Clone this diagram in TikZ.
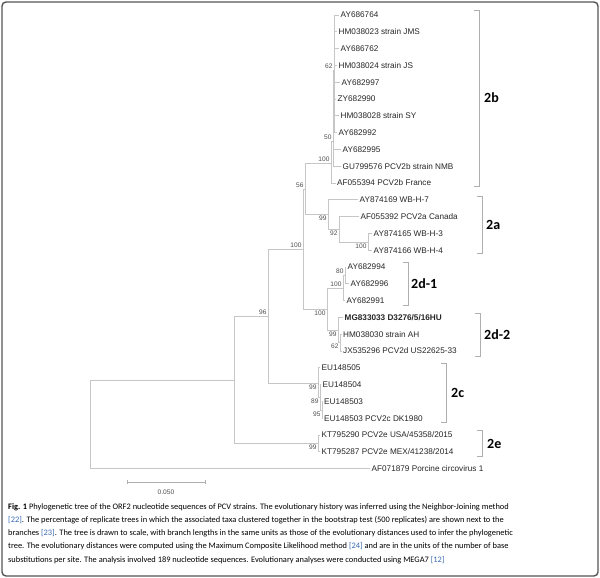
\documentclass[tikz,border=0pt]{standalone}
\usepackage{fontspec}
\setmainfont{Liberation Sans}
\newfontfamily\capfont{Carlito}
\usetikzlibrary{calc}
\definecolor{treegray}{RGB}{198,198,198}
\definecolor{brkgray}{RGB}{175,175,175}
\definecolor{framegray}{RGB}{85,85,85}
\definecolor{citeblue}{RGB}{55,105,180}
\newcommand{\refno}[1]{\textcolor{citeblue}{[#1]}}
\tikzset{
  br/.style={draw=treegray, line width=0.9pt},
  brk/.style={draw=brkgray, line width=0.8pt},
  taxon/.style={anchor=west, inner sep=1.5pt, text=black!85, font=\fontsize{8.2}{9}\selectfont},
  bsup/.style={anchor=south east, inner sep=1.3pt, text=black!70, font=\fontsize{6.6}{7}\selectfont},
  bsdn/.style={anchor=north east, inner sep=1.3pt, text=black!70, font=\fontsize{6.6}{7}\selectfont},
  clade/.style={anchor=west, inner sep=0pt, font=\capfont\bfseries\fontsize{14}{16}\selectfont},
  caption/.style={anchor=north west, inner sep=0pt, align=left, font=\capfont\fontsize{8.4}{13.3}\selectfont}
}
\begin{document}
\begin{tikzpicture}[x=1pt, y=-1pt]
  \useasboundingbox (0,0) rectangle (600,578);
  \draw[framegray, line width=1.4pt, rounded corners=4pt] (2,2) rectangle (598,576);

  \coordinate (root) at (90,424);
  \coordinate (npcv2) at (234,380);
  \coordinate (n96) at (268,316);
  \coordinate (n100) at (303,249);
  \coordinate (n56) at (305,189);
  \coordinate (n2b) at (331,163);
  \coordinate (n50) at (333,141);
  \coordinate (n62) at (334,70);
  \coordinate (n2a) at (328,214.5);
  \coordinate (n92) at (339,229);
  \coordinate (nwb) at (368,242);
  \coordinate (n2d) at (327,309);
  \coordinate (n2done) at (343,288);
  \coordinate (n80) at (345,275.4);
  \coordinate (n2dtwo) at (338,330);
  \coordinate (n62d) at (340,342.6);
  \coordinate (n2c) at (318,383);
  \coordinate (n89) at (320,397);
  \coordinate (n95) at (322,410);
  \coordinate (n2e) at (318,443.4);

  \node[taxon] (t0) at (339,15) {AY686764};
  \node[taxon] (t1) at (337,31.8) {HM038023 strain JMS};
  \node[taxon] (t2) at (339,48.6) {AY686762};
  \node[taxon] (t3) at (337,65.4) {HM038024 strain JS};
  \node[taxon] (t4) at (340,82.2) {AY682997};
  \node[taxon] (t5) at (336,99) {ZY682990};
  \node[taxon] (t6) at (339,115.8) {HM038028 strain SY};
  \node[taxon] (t7) at (337,132.6) {AY682992};
  \node[taxon] (t8) at (341,149.4) {AY682995};
  \node[taxon] (t9) at (341,166.2) {GU799576 PCV2b strain NMB};
  \node[taxon] (t10) at (335.5,183) {AF055394 PCV2b France};
  \node[taxon] (t11) at (358,199.8) {AY874169 WB-H-7};
  \node[taxon] (t12) at (359,216.6) {AF055392 PCV2a Canada};
  \node[taxon] (t13) at (372,233.4) {AY874165 WB-H-3};
  \node[taxon] (t14) at (372,250.2) {AY874166 WB-H-4};
  \node[taxon] (t15) at (346,267) {AY682994};
  \node[taxon] (t16) at (349,283.8) {AY682996};
  \node[taxon] (t17) at (345,300.6) {AY682991};
  \node[taxon] (t18) at (343,317.4) {\textbf{MG833033 D3276/5/16HU}};
  \node[taxon] (t19) at (341.5,334.2) {HM038030 strain AH};
  \node[taxon] (t20) at (341.5,351) {JX535296 PCV2d US22625-33};
  \node[taxon] (t21) at (320,367.8) {EU148505};
  \node[taxon] (t22) at (321,384.6) {EU148504};
  \node[taxon] (t23) at (322.5,401.4) {EU148503};
  \node[taxon] (t24) at (322.5,418.2) {EU148503 PCV2c DK1980};
  \node[taxon] (t25) at (320,435) {KT795290 PCV2e USA/45358/2015};
  \node[taxon] (t26) at (320,451.8) {KT795287 PCV2e MEX/41238/2014};
  \node[taxon] (t27) at (370,468.6) {AF071879 Porcine circovirus 1};

  \draw[br] (root) |- (npcv2);
  \draw[br] (root) |- (t27.west);
  \draw[br] (npcv2) |- (n96);
  \draw[br] (npcv2) |- (n2e);
  \draw[br] (n96) |- (n100);
  \draw[br] (n96) |- (n2c);
  \draw[br] (n100) |- (n56);
  \draw[br] (n100) |- (n2d);
  \draw[br] (n56) |- (n2b);
  \draw[br] (n56) |- (n2a);
  \draw[br] (n2b) |- (n50);
  \draw[br] (n2b) |- (t10.west);
  \draw[br] (n50) |- (n62);
  \draw[br] (n50) |- (t8.west);
  \draw[br] (n50) |- (t9.west);
  \draw[br] (n62) |- (t0.west);
  \draw[br] (n62) |- (t1.west);
  \draw[br] (n62) |- (t2.west);
  \draw[br] (n62) |- (t3.west);
  \draw[br] (n62) |- (t4.west);
  \draw[br] (n62) |- (t5.west);
  \draw[br] (n62) |- (t6.west);
  \draw[br] (n62) |- (t7.west);
  \draw[br] (n2a) |- (t11.west);
  \draw[br] (n2a) |- (n92);
  \draw[br] (n92) |- (t12.west);
  \draw[br] (n92) |- (nwb);
  \draw[br] (nwb) |- (t13.west);
  \draw[br] (nwb) |- (t14.west);
  \draw[br] (n2d) |- (n2done);
  \draw[br] (n2d) |- (n2dtwo);
  \draw[br] (n2done) |- (n80);
  \draw[br] (n2done) |- (t17.west);
  \draw[br] (n80) |- (t15.west);
  \draw[br] (n80) |- (t16.west);
  \draw[br] (n2dtwo) |- (t18.west);
  \draw[br] (n2dtwo) |- (n62d);
  \draw[br] (n62d) |- (t19.west);
  \draw[br] (n62d) |- (t20.west);
  \draw[br] (n2c) |- (t21.west);
  \draw[br] (n2c) |- (n89);
  \draw[br] (n89) |- (t22.west);
  \draw[br] (n89) |- (n95);
  \draw[br] (n95) |- (t23.west);
  \draw[br] (n95) |- (t24.west);
  \draw[br] (n2e) |- (t25.west);
  \draw[br] (n2e) |- (t26.west);

  \node[bsup] at (n62) {62};
  \node[bsup] at (n50) {50};
  \node[bsup] at (n2b) {100};
  \node[bsup] at (n56) {56};
  \node[bsup] at (n100) {100};
  \node[bsup] at (n96) {96};
  \node[bsup] at (n2done) {100};
  \node[bsup] at (n80) {80};
  \node[bsdn] at (n2a) {99};
  \node[bsdn] at (n92) {92};
  \node[bsdn] at (nwb) {100};
  \node[bsdn] at (n2d) {100};
  \node[bsdn] at (n2dtwo) {99};
  \node[bsdn] at (n62d) {62};
  \node[bsdn] at (n2c) {99};
  \node[bsdn] at (n89) {89};
  \node[bsdn] at (n95) {95};
  \node[bsdn] at (n2e) {99};

  \draw[brk] (474,10) -| (479,186) -- (474,186);
  \node[clade] (c2b) at (484,98) {2b};
  \draw[brk] (477,196) -| (482,253) -- (477,253);
  \node[clade] (c2a) at (486,225) {2a};
  \draw[brk] (403,262) -| (408,305) -- (403,305);
  \node[clade] (c2d1) at (411,284) {2d-1};
  \draw[brk] (475,313) -| (480,356) -- (475,356);
  \node[clade] (c2d2) at (484,335) {2d-2};
  \draw[brk] (441,363) -| (446,422) -- (441,422);
  \node[clade] (c2c) at (451,393) {2c};
  \draw[brk] (477,430) -| (482,456) -- (477,456);
  \node[clade] (c2e) at (487,444) {2e};

  \coordinate (sbl) at (127,482);
  \coordinate (sbr) at (205,482);
  \draw[brk] (sbl) -- (sbr);
  \draw[brk] ($(sbl)+(0,-2)$) -- ($(sbl)+(0,2)$);
  \draw[brk] ($(sbr)+(0,-2)$) -- ($(sbr)+(0,2)$);
  \node[bsdn, anchor=north, inner sep=2pt] (sblabel) at ($(sbl)!0.5!(sbr)+(0,6)$) {0.050};

  \node[caption] (cap) at (8,503) {\textbf{Fig. 1} Phylogenetic tree of the ORF2 nucleotide sequences of PCV strains. The evolutionary history was inferred using the Neighbor-Joining method\\
  \refno{22}. The percentage of replicate trees in which the associated taxa clustered together in the bootstrap test (500 replicates) are shown next to the\\
  branches \refno{23}. The tree is drawn to scale, with branch lengths in the same units as those of the evolutionary distances used to infer the phylogenetic\\
  tree. The evolutionary distances were computed using the Maximum Composite Likelihood method \refno{24} and are in the units of the number of base\\
  substitutions per site. The analysis involved 189 nucleotide sequences. Evolutionary analyses were conducted using MEGA7 \refno{12}};
\end{tikzpicture}
\end{document}
